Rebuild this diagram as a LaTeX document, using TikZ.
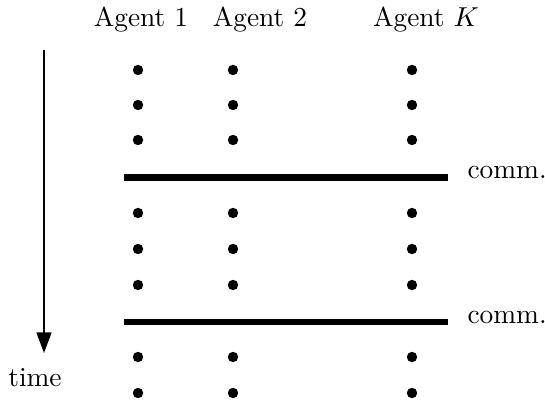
\documentclass[tikz,border=0pt]{standalone}
\usetikzlibrary{arrows.meta}
\begin{document}
\begin{tikzpicture}[x=0.365pt,y=-0.365pt,
    dot/.style={circle,fill,inner sep=0pt,minimum size=3.8pt},
    commline/.style={line width=2.2pt},
    lbl/.style={anchor=base,inner sep=0pt}]
\useasboundingbox (0,0) rectangle (545,410);

\node[lbl] (ag1) at (141,27) {Agent 1};
\node[lbl] (ag2) at (260,27) {Agent 2};
\node[lbl] (agk) at (426,27) {Agent $K$};

\foreach \x/\a in {138/a,233/b,412/k}
{
    \foreach \y/\t in {70/1,105/2,140/3,213/4,249/5,285/6,357/7,393/8}
    {
        \node[dot] (d\a\t) at (\x,\y) {};
    }
}

\foreach \y/\n in {177.5/1,322/2}
{
    \coordinate (c\n w) at (124,\y);
    \coordinate (c\n e) at (448,\y);
    \draw[commline] (c\n w)--(c\n e);
    \node[anchor=base west,inner sep=0pt] (comm\n) at (467,\y+1.5) {comm.};
}

\coordinate (tstart) at (44,50);
\coordinate (tend) at (44,353);
\draw[line width=0.45pt,-{Triangle[length=7.5pt,width=5.5pt]}] (tstart)--(tend);
\node[lbl] (time) at (35,386) {time};
\end{tikzpicture}
\end{document}
